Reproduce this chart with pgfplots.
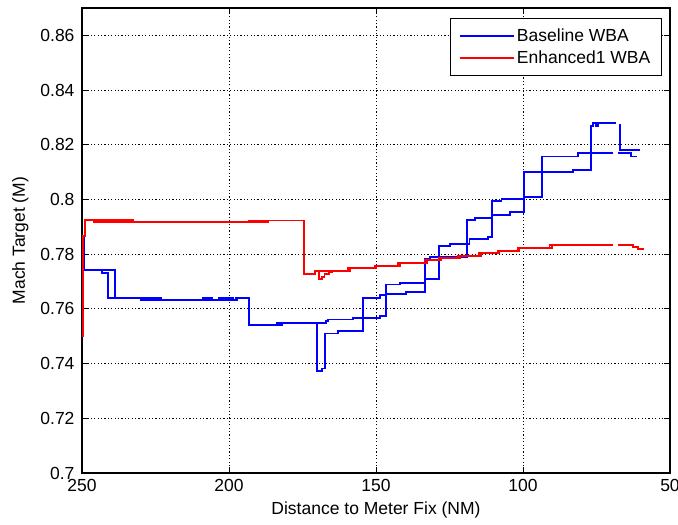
\documentclass[border=0pt]{standalone}
\usepackage{pgfplots}
\pgfplotsset{compat=1.18}
\usepackage{fontspec}
\setmainfont{Liberation Sans}
\definecolor{mblue}{RGB}{0,0,255}
\definecolor{mred}{RGB}{255,0,0}
\newcommand{\chartfont}{\fontsize{17.5bp}{20bp}\selectfont}
\pgfplotsset{
  bluetrace/.style={const plot, color=mblue, solid, line width=1.9bp, mark=none},
  redtrace/.style={const plot, color=mred, solid, line width=1.9bp, mark=none},
}
\begin{document}
\begin{tikzpicture}
\begin{axis}[
  scale only axis,
  width=588bp, height=465bp,
  x dir=reverse,
  xmin=50, xmax=250,
  ymin=0.7, ymax=0.87,
  xtick={50,100,150,200,250},
  ytick={0.7,0.72,0.74,0.76,0.78,0.8,0.82,0.84,0.86},
  yticklabel style={/pgf/number format/fixed, /pgf/number format/precision=2, /pgf/number format/assume math mode=true, xshift=-4bp, font=\chartfont},
  xticklabel style={/pgf/number format/fixed, /pgf/number format/assume math mode=true, yshift=-3bp, font=\chartfont},
  tick align=inside,
  major tick length=6bp,
  tick style={black, line width=0.8bp},
  axis line style={black, line width=1.3bp},
  grid=major,
  major grid style={black, line width=0.8bp, dash pattern=on 1.2bp off 2.2bp},
  xlabel={Distance to Meter Fix (NM)},
  ylabel={Mach Target (M)},
  every axis x label/.style={at={(axis description cs:0.5,-0.08)}, anchor=center, font=\chartfont},
  every axis y label/.style={at={(axis description cs:-0.105,0.5)}, rotate=90, anchor=center, font=\chartfont},
  legend style={at={(axis description cs:0.986,0.978)}, anchor=north east,
    draw=black, line width=1bp, fill=white, font=\chartfont,
    inner xsep=9bp, inner ysep=8bp, row sep=4bp,
    nodes={inner sep=2bp}},
  legend cell align=left,
  legend image code/.code={\draw[#1, line width=1.6bp] (0bp,0bp) -- (54bp,0bp);},
]
% Baseline WBA, trace B
\addplot[bluetrace] coordinates {
(249.8,0.7501) (249.8,0.7864) (249.3,0.7742) (238.9,0.7640) (223.2,0.7632)
(197.5,0.7640) (193.1,0.7540) (182.1,0.7550) (170.1,0.7372) (168.5,0.7382)
(167.3,0.7510) (162.8,0.7520) (154.3,0.7641) (148.6,0.7650) (146.6,0.7655)
(139.8,0.7662) (133.3,0.7784) (131.6,0.7790) (119.1,0.7924) (116.3,0.7933)
(110.6,0.7943) (104.4,0.7955) (99.6,0.8099) (82.9,0.8109) (77.0,0.8270)
(76.3,0.8278) (75.3,0.8268) (74.6,0.8278) (68.4,0.8278)
};
\addlegendentry{Baseline WBA}
\addplot[bluetrace, forget plot] coordinates {
(67.0,0.8277) (67.0,0.8180) (60.2,0.8180)
};
% Baseline WBA, trace A
\addplot[bluetrace, forget plot] coordinates {
(250.2,0.7864) (250.2,0.7501) (249.7,0.7742) (243.2,0.7732) (241.2,0.7640)
(229.8,0.7632) (209.0,0.7640) (205.6,0.7632) (203.3,0.7640) (198.5,0.7632)
(197.2,0.7640) (193.1,0.7540) (183.8,0.7550) (167.0,0.7555) (166.2,0.7561)
(157.7,0.7568) (148.6,0.7574) (146.6,0.7689) (141.8,0.7696) (133.5,0.7710)
(128.5,0.7829) (124.9,0.7838) (118.2,0.7855) (111.8,0.7863) (110.6,0.7994)
(107.3,0.8002) (99.7,0.8008) (93.6,0.8157) (81.2,0.8170) (69.3,0.8170)
};
\addplot[bluetrace, forget plot] coordinates {
(67.7,0.8170) (63.3,0.8157) (61.1,0.8157)
};
% Enhanced1 WBA, trace 1
\addplot[redtrace] coordinates {
(250.5,0.7501) (249.8,0.7865) (249.0,0.7925) (245.9,0.7918) (245.2,0.7925)
(232.6,0.7916) (193.1,0.7923) (174.5,0.7729) (170.7,0.7739) (158.8,0.7748)
(150.0,0.7757) (141.8,0.7768) (132.8,0.7778) (128.0,0.7785) (121.4,0.7793)
(114.3,0.7803) (108.0,0.7813) (101.3,0.7824) (90.2,0.7834) (69.3,0.7834)
};
\addlegendentry{Enhanced1 WBA}
\addplot[redtrace, forget plot] coordinates {
(67.7,0.7834) (62.5,0.7826) (60.8,0.7818) (59.0,0.7818)
};
% Enhanced1 WBA, trace 2
\addplot[redtrace, forget plot] coordinates {
(250.5,0.7501) (249.8,0.7865) (249.0,0.7925) (245.5,0.7916) (186.6,0.7923)
(174.5,0.7729) (170.7,0.7739) (169.5,0.7709) (168.5,0.7717) (167.5,0.7727)
(166.0,0.7735) (165.0,0.7739) (159.5,0.7748) (150.5,0.7757) (142.5,0.7768)
(133.5,0.7778) (128.5,0.7785) (122.0,0.7793) (115.0,0.7803) (108.5,0.7813)
(101.8,0.7824) (91.0,0.7834) (69.3,0.7834)
};
\end{axis}
\pgfresetboundingbox
\path[use as bounding box] ([xshift=-82bp,yshift=-52bp]current axis.south west) rectangle ([xshift=8bp,yshift=8bp]current axis.north east);
\end{tikzpicture}
\end{document}
